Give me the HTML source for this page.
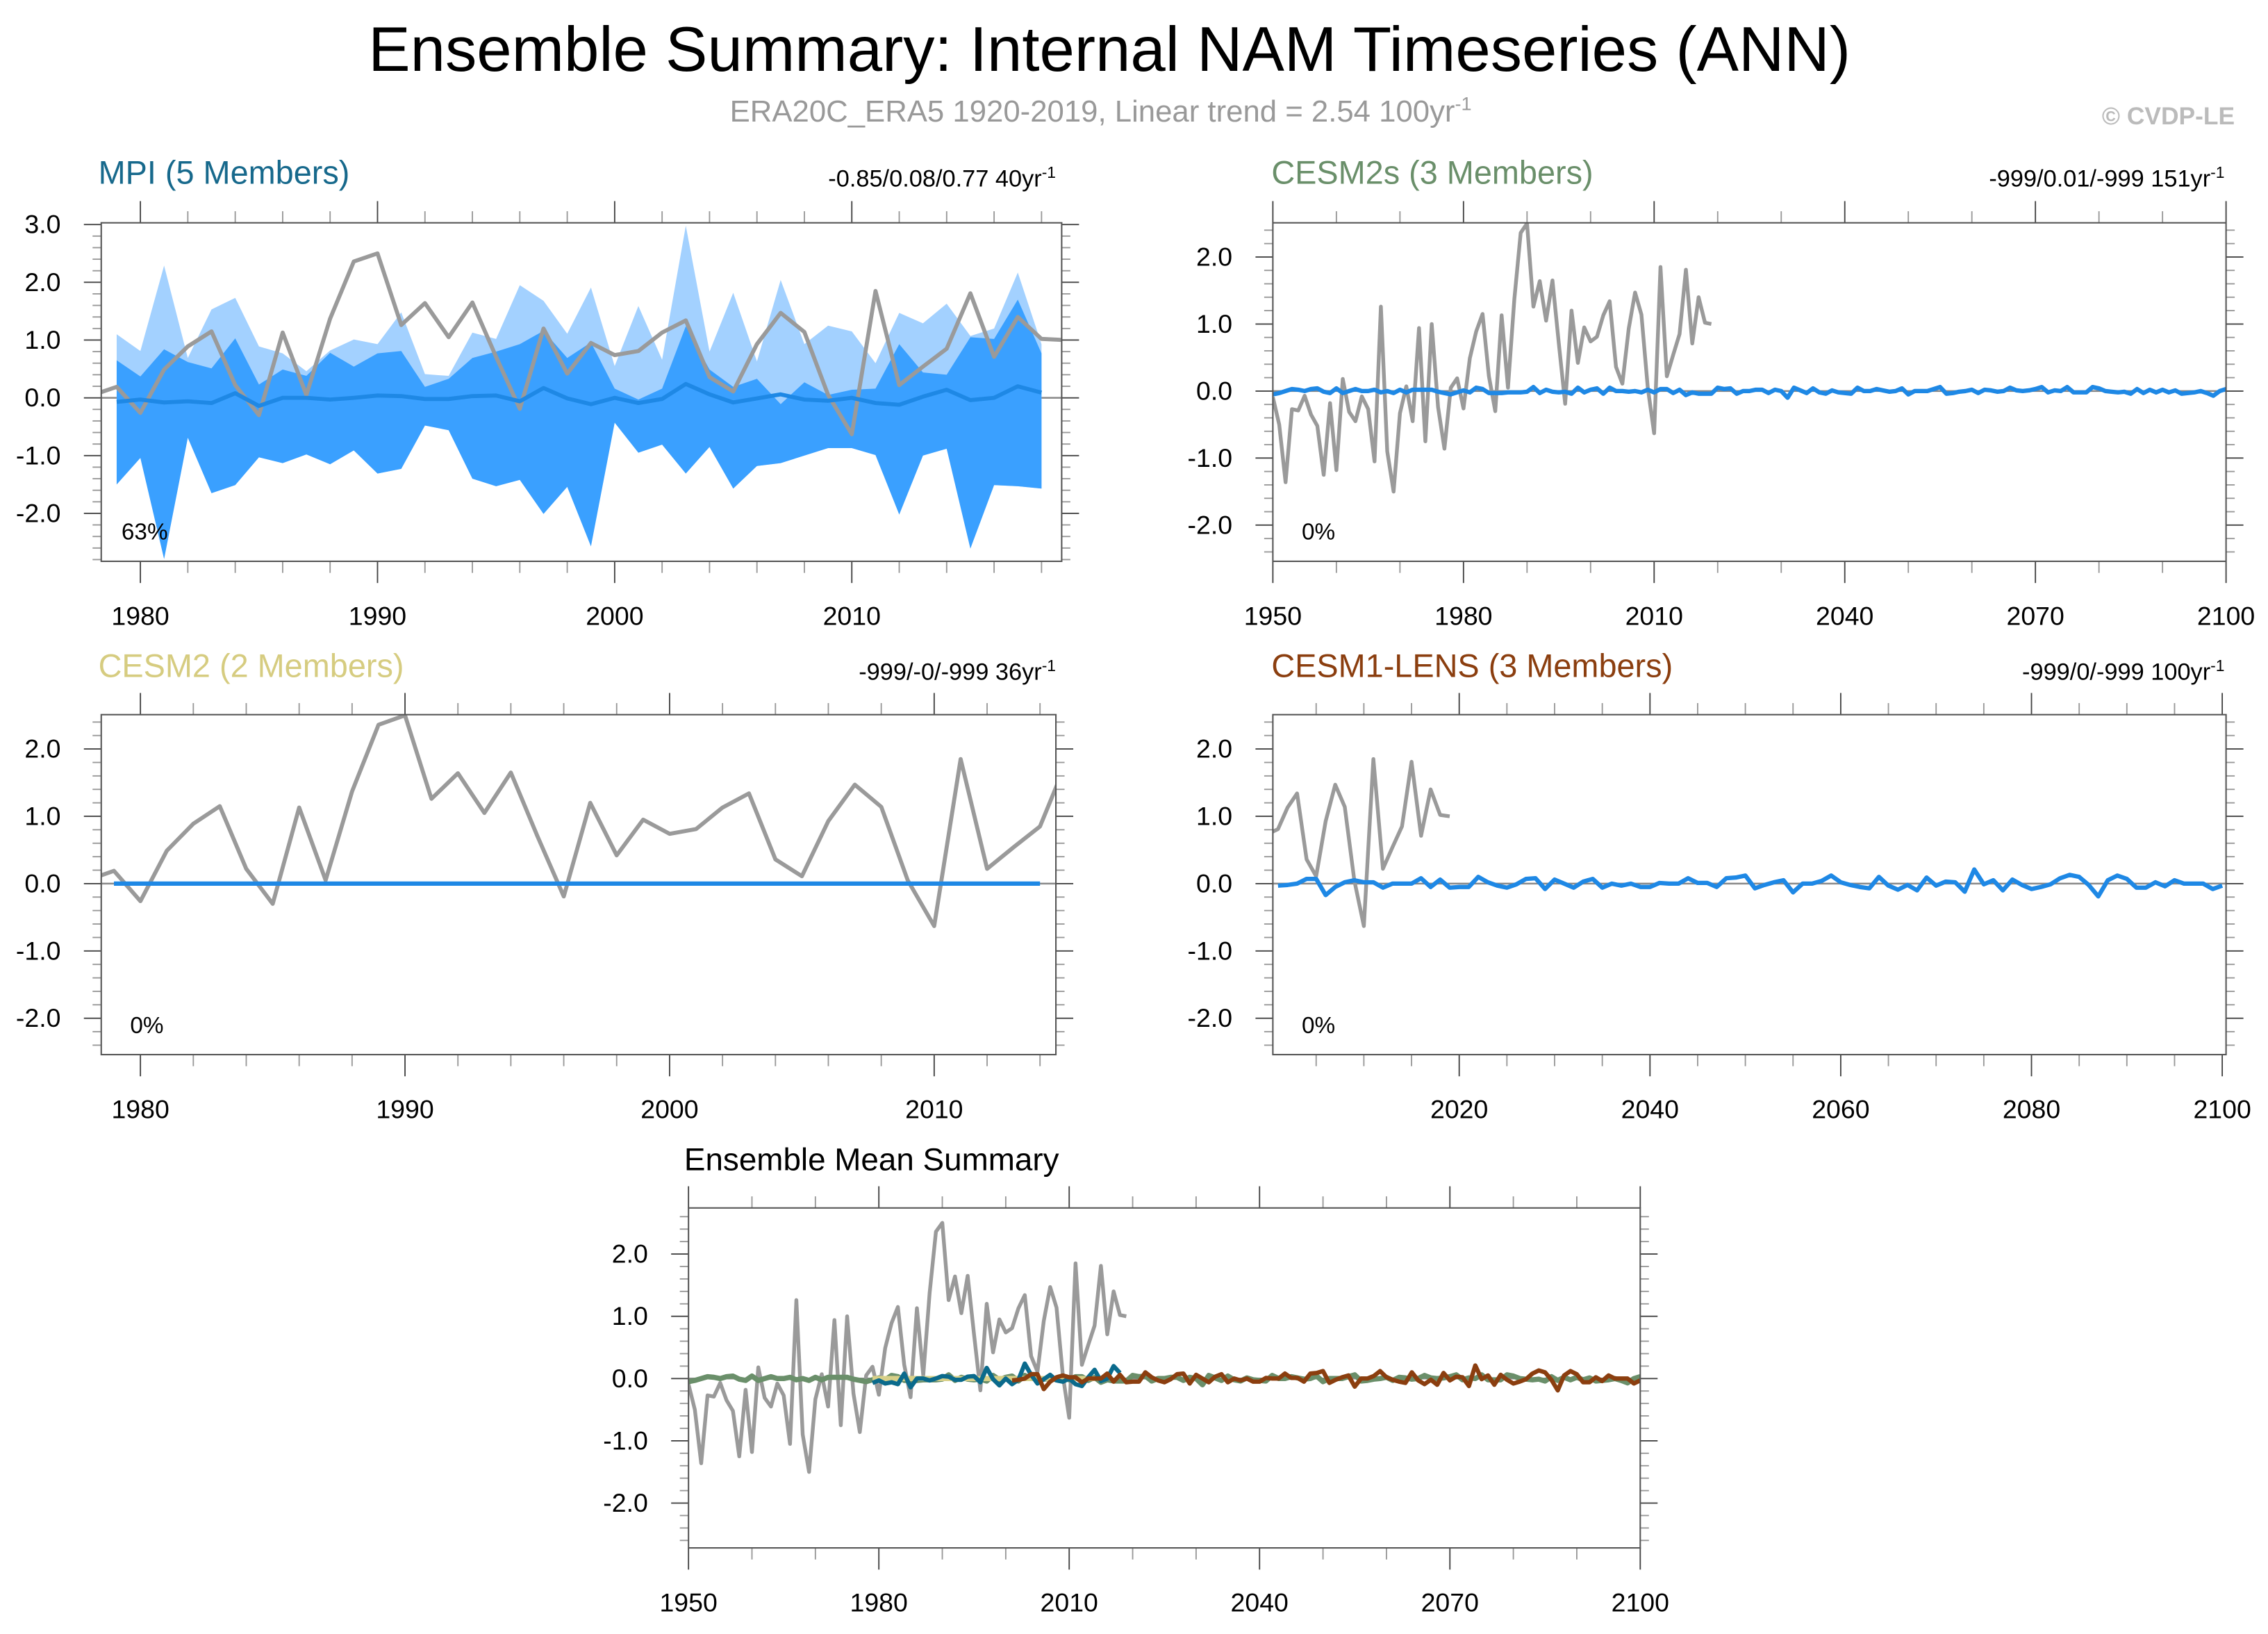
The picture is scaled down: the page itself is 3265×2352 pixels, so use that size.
<!DOCTYPE html>
<html><head><meta charset="utf-8">
<style>
html,body{margin:0;padding:0;background:#fff;}
svg{display:block;font-family:"Liberation Sans",sans-serif;}
</style></head>
<body>
<svg id="chart" width="3265" height="2352" viewBox="0 0 1568 1129.5" xmlns="http://www.w3.org/2000/svg">
<rect width="1568" height="1129.5" fill="#fff"/>
<text x="767" y="49" font-size="43.5" text-anchor="middle" fill="#000">Ensemble Summary: Internal NAM Timeseries (ANN)</text>
<text x="761" y="84" font-size="21" text-anchor="middle" fill="#999">ERA20C_ERA5 1920-2019, Linear trend = 2.54 100yr<tspan dy="-8" font-size="13">-1</tspan></text>
<text x="1545" y="86" font-size="17" font-weight="bold" text-anchor="end" fill="#bbb">© CVDP-LE</text>

<text x="68" y="127" font-size="22.5" fill="#17698c">MPI (5 Members)</text>
<text x="730" y="129" font-size="16.5" text-anchor="end" fill="#000">-0.85/0.08/0.77 40yr<tspan dy="-6" font-size="11">-1</tspan></text>
<text x="879" y="127" font-size="22.5" fill="#6a8f6a">CESM2s (3 Members)</text>
<text x="1538" y="129" font-size="16.5" text-anchor="end" fill="#000">-999/0.01/-999 151yr<tspan dy="-6" font-size="11">-1</tspan></text>
<text x="68" y="468" font-size="22.5" fill="#d6cc80">CESM2 (2 Members)</text>
<text x="730" y="470" font-size="16.5" text-anchor="end" fill="#000">-999/-0/-999 36yr<tspan dy="-6" font-size="11">-1</tspan></text>
<text x="879" y="468" font-size="22.5" fill="#8b3e0f">CESM1-LENS (3 Members)</text>
<text x="1538" y="470" font-size="16.5" text-anchor="end" fill="#000">-999/0/-999 100yr<tspan dy="-6" font-size="11">-1</tspan></text>
<text x="473" y="809" font-size="22" fill="#000">Ensemble Mean Summary</text>
<g id="plots"></g>
</svg>
<script>
const obsYears0 = 1950;
const obs = [-0.09,-0.5,-1.36,-0.27,-0.29,-0.07,-0.35,-0.52,-1.25,-0.18,
-1.18,0.18,-0.31,-0.45,-0.08,-0.27,-1.05,1.26,-0.9,-1.5,
-0.33,0.07,-0.45,0.94,-0.75,1.0,-0.24,-0.86,0.05,0.19,
-0.26,0.49,0.89,1.15,0.22,-0.30,1.13,0.05,1.37,2.36,
2.50,1.26,1.64,1.05,1.65,0.71,-0.19,1.20,0.42,0.95,
0.74,0.81,1.13,1.34,0.36,0.11,0.93,1.47,1.14,0.05,
-0.63,1.85,0.22,0.54,0.85,1.81,0.71,1.40,1.02,1.00];
const mpiYear0 = 1979;
const mpiMean = [-0.07,-0.03,-0.08,-0.06,-0.09,0.08,-0.14,0.0,0.0,-0.03,0.0,0.04,0.03,-0.02,-0.02,0.03,0.04,-0.06,0.17,-0.01,-0.11,0.0,-0.09,-0.02,0.24,0.06,-0.08,-0.01,0.06,-0.03,-0.05,0.0,-0.09,-0.12,0.02,0.14,-0.04,0.0,0.2,0.09];
const mpiMaxAll = [1.10,0.81,2.29,0.69,1.53,1.73,0.89,0.77,0.46,0.82,1.01,0.93,1.48,0.41,0.38,1.13,1.02,1.95,1.68,1.11,1.91,0.55,1.59,0.66,2.98,0.80,1.82,0.63,2.04,0.93,1.25,1.15,0.60,1.47,1.29,1.63,1.07,1.20,2.17,0.93];
const mpiUpper = [0.65,0.37,0.84,0.62,0.51,1.03,0.23,0.49,0.38,0.78,0.54,0.77,0.81,0.19,0.33,0.69,0.80,0.93,1.16,0.69,0.96,0.16,-0.03,0.16,1.24,0.49,0.19,0.33,-0.11,0.27,0.05,0.14,0.16,0.93,0.44,0.40,1.05,1.02,1.70,0.77];
const mpiLower = [-1.50,-1.04,-2.79,-0.69,-1.65,-1.51,-1.03,-1.13,-0.98,-1.15,-0.91,-1.31,-1.23,-0.48,-0.56,-1.40,-1.53,-1.42,-2.01,-1.54,-2.57,-0.43,-0.95,-0.81,-1.31,-0.85,-1.57,-1.18,-1.13,-1.00,-0.87,-0.87,-0.99,-2.02,-1.00,-0.88,-2.61,-1.51,-1.53,-1.57];
const cesm2sYear0 = 1950;
const cesm2s = [-0.05,-0.03,0.00,0.03,0.02,0.00,0.03,0.04,-0.01,-0.03,
0.04,-0.03,0.00,0.03,0.00,0.00,0.02,-0.02,0.00,-0.03,
0.02,-0.02,0.02,0.02,0.02,0.02,-0.01,-0.03,-0.05,-0.02,
0.01,-0.02,0.05,0.03,-0.03,-0.03,-0.03,-0.02,-0.02,-0.02,
-0.01,0.06,-0.03,0.02,-0.01,-0.02,-0.01,-0.04,0.05,-0.02,
0.02,0.04,-0.04,0.05,0.00,0.00,-0.01,0.00,-0.02,0.02,
-0.02,0.03,0.03,-0.03,0.02,-0.06,-0.02,-0.04,-0.04,-0.04,
0.05,0.03,0.04,-0.04,0.00,0.00,0.02,0.02,-0.03,0.02,
0.00,-0.10,0.05,0.01,-0.03,0.04,-0.02,-0.04,0.01,-0.02,
-0.03,-0.04,0.05,0.00,0.00,0.03,0.01,-0.01,0.00,0.04,
-0.05,0.00,0.00,0.00,0.03,0.06,-0.04,-0.03,-0.01,0.00,
0.02,-0.03,0.02,0.01,-0.01,0.00,0.05,0.01,0.00,0.01,
0.03,0.06,-0.02,0.01,0.00,0.06,-0.02,-0.02,-0.02,0.06,
0.04,0.00,-0.01,-0.02,-0.01,-0.04,0.03,-0.03,0.02,-0.02,
0.02,-0.02,0.01,-0.04,-0.03,-0.02,0.00,-0.03,-0.07,0.00,
0.03];
const cesm2Year0 = 1979;
const cesm2 = [0,0,0,0,0,0,0,0,0,0,0,0,0,0,0,0,0,0,0,0,0,0,0,0,0,0,0,0,0,0,0,0,0,0,0,0];
const lensYear0 = 2001;
const lens = [-0.03,-0.02,0.0,0.07,0.07,-0.17,-0.05,0.02,0.05,0.02,
0.02,-0.06,0.0,0.0,0.0,0.08,-0.05,0.06,-0.06,-0.05,
-0.05,0.1,0.02,-0.03,-0.06,-0.01,0.07,0.08,-0.08,0.06,
0.0,-0.06,0.03,0.07,-0.06,0.0,-0.03,0.0,-0.05,-0.05,
0.01,0.0,0.0,0.08,0.01,0.01,-0.05,0.08,0.09,0.12,
-0.07,-0.02,0.02,0.05,-0.13,0.0,0.0,0.04,0.12,0.02,
-0.02,-0.05,-0.07,0.1,-0.03,-0.09,-0.02,-0.1,0.09,-0.03,
0.03,0.02,-0.12,0.21,-0.01,0.05,-0.1,0.06,-0.02,-0.08,
-0.05,-0.01,0.08,0.13,0.1,-0.02,-0.19,0.05,0.12,0.07,
-0.06,-0.06,0.02,-0.04,0.05,0.0,0.0,0.0,-0.08,-0.03];
const yTicks1 = [3,2,1,0,-1,-2];
const yTicks2 = [2,1,0,-1,-2];

const NS='http://www.w3.org/2000/svg';
const root=document.getElementById('plots');
function mk(tag,attrs,parent){const e=document.createElementNS(NS,tag);for(const k in attrs)e.setAttribute(k,attrs[k]);(parent||root).appendChild(e);return e;}

function panel(id,c){
  const g=mk('g',{});
  
  
  const sx=v=>c.x0+(v-c.xmin)/(c.xmax-c.xmin)*(c.x1-c.x0);
  const sy=v=>c.y0+(c.ymax-v)/(c.ymax-c.ymin)*(c.y1-c.y0);
  const cp=mk('clipPath',{id:'clip-'+id},g);
  mk('rect',{x:c.x0,y:c.y0,width:c.x1-c.x0,height:c.y1-c.y0},cp);
  const plot=mk('g',{'clip-path':'url(#clip-'+id+')'},g);
  const tk=mk('g',{stroke:'#555','stroke-width':0.9},g);
  for(let v=Math.ceil(c.ymin/0.2)*0.2; v<=c.ymax+1e-6; v+=0.2){
    const r=Math.round(v*10)/10; const major=Math.abs(r-Math.round(r))<1e-6;
    const L=major?12:6; const y=sy(r);
    mk('line',{x1:c.x0-L,y1:y,x2:c.x0,y2:y,stroke:major?'#444':'#999'},tk);
    mk('line',{x1:c.x1,y1:y,x2:c.x1+L,y2:y,stroke:major?'#444':'#999'},tk);
  }
  for(let v=c.minStart; v<=c.xmax+1e-6; v+=c.minor){
    const major=((v-c.majStart)%c.major+c.major)%c.major<1e-6;
    const L=major?15:8; const x=sx(v);
    mk('line',{x1:x,y1:c.y0-L,x2:x,y2:c.y0,stroke:major?'#444':'#999'},tk);
    mk('line',{x1:x,y1:c.y1,x2:x,y2:c.y1+L,stroke:major?'#444':'#999'},tk);
    if(major){
      const t=mk('text',{x:x,y:c.y1+44,'font-size':18,'text-anchor':'middle',fill:'#000',stroke:'none'},g);
      
      
      t.textContent=v;
    }
  }
  c.yt.forEach(v=>{
    const t=mk('text',{x:c.x0-28,y:sy(v)+6,'font-size':18,'text-anchor':'end',fill:'#000'},g);
    
    
    t.textContent=v.toFixed(1);
  });
  mk('line',{x1:c.x0,y1:sy(0),x2:c.x1,y2:sy(0),stroke:'#888','stroke-width':1.2},plot);
  const line=(y0,arr,col,w,name)=>{
    const p=mk('polyline',{points:arr.map((v,i)=>sx(y0+i).toFixed(2)+','+sy(v).toFixed(2)).join(' '),fill:'none',stroke:col,'stroke-width':w,'stroke-linejoin':'round'},plot);
    
    
  };
  const band=(y0,up,lo,col,name)=>{
    const pts=up.map((v,i)=>sx(y0+i)+','+sy(v)).concat(lo.map((v,i)=>[sx(y0+i),sy(v)]).reverse().map(p=>p[0]+','+p[1]));
    const p=mk('polygon',{points:pts.join(' '),fill:col,stroke:'none'},plot);
    
    
  };
  c.draw(line,band);
  mk('rect',{x:c.x0,y:c.y0,width:c.x1-c.x0,height:c.y1-c.y0,fill:'none',stroke:'#555','stroke-width':1},g);
  if(c.pct){
    const t=mk('text',{x:c.x0+c.pctDx,y:c.y1-15,'font-size':16,fill:'#000'},g);
    
    
    t.textContent=c.pct;
  }
}

panel('mpi',{x0:70,x1:734,y0:154,y1:388,xmin:1978.35,xmax:2018.85,ymin:-2.83,ymax:3.03,yt:yTicks1,
  minStart:1980,minor:2,majStart:1980,major:10,pct:'63%',pctDx:14,
  draw:(line,band)=>{band(mpiYear0,mpiMaxAll,mpiLower,'#a3d1ff','mpi-full-range');band(mpiYear0,mpiUpper,mpiLower,'#3aa0ff','mpi-member-range');
    line(obsYears0,obs,'#9a9a9a',2.8,'obs-line');line(mpiYear0,mpiMean,'#1e88e5',2.8,'mpi-mean-line');}});
panel('cesm2s',{x0:880,x1:1539,y0:154,y1:388,xmin:1950,xmax:2100,ymin:-2.54,ymax:2.51,yt:yTicks2,
  minStart:1950,minor:10,majStart:1950,major:30,pct:'0%',pctDx:20,
  draw:(line)=>{line(obsYears0,obs,'#9a9a9a',2.6,'obs-line');line(cesm2sYear0,cesm2s,'#1e88e5',3,'cesm2s-mean-line');}});
panel('cesm2',{x0:70,x1:730,y0:494,y1:729,xmin:1978.52,xmax:2014.6,ymin:-2.54,ymax:2.51,yt:yTicks2,
  minStart:1980,minor:2,majStart:1980,major:10,pct:'0%',pctDx:20,
  draw:(line)=>{line(obsYears0,obs,'#9a9a9a',2.8,'obs-line');line(cesm2Year0,cesm2,'#1e88e5',3,'cesm2-mean-line');}});
panel('cesm1-lens',{x0:880,x1:1539,y0:494,y1:729,xmin:2000.46,xmax:2100.4,ymin:-2.54,ymax:2.51,yt:yTicks2,
  minStart:2005,minor:5,majStart:2020,major:20,pct:'0%',pctDx:20,
  draw:(line)=>{line(obsYears0,obs,'#9a9a9a',2.6,'obs-line');line(lensYear0,lens,'#1e88e5',3,'cesm1-lens-mean-line');}});
panel('ensemble-mean',{x0:476,x1:1134,y0:835,y1:1070,xmin:1950,xmax:2100,ymin:-2.72,ymax:2.74,yt:yTicks2,
  minStart:1950,minor:10,majStart:1950,major:30,pct:'',
  draw:(line)=>{line(obsYears0,obs,'#9a9a9a',2.6,'obs-line');line(cesm2sYear0,cesm2s,'#6a8f6a',3.6,'cesm2s-line');
    line(cesm2Year0,cesm2,'#d8d088',3.6,'cesm2-line');line(mpiYear0,mpiMean,'#0a6a8c',3,'mpi-line');line(lensYear0,lens,'#8b3e0f',3,'cesm1-lens-line');}});
</script>
</body></html>
